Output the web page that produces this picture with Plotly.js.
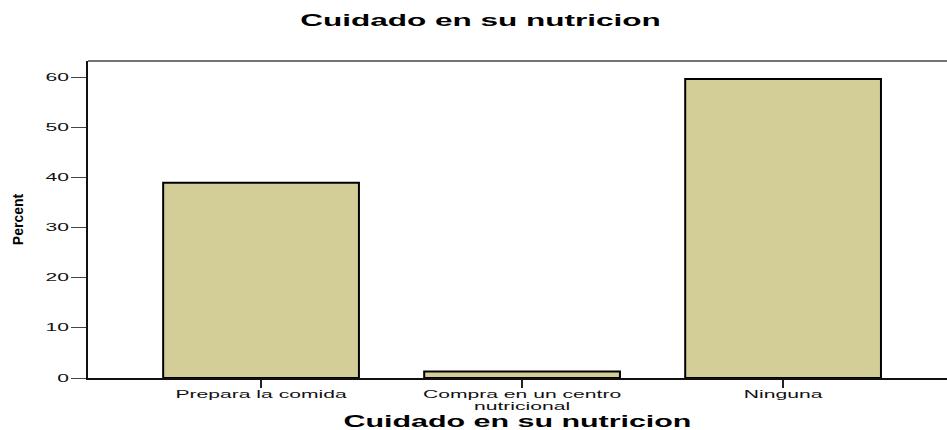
<!DOCTYPE html>
<html>
<head>
<meta charset="utf-8">
<script src="https://cdn.plot.ly/plotly-3.0.1.min.js"></script>
<style>
  html, body { margin: 0; padding: 0; background: #fff; }
  #chart { width: 947px; height: 430px; }
</style>
</head>
<body>
<div id="chart"></div>
<script>
// ---- data ----
var categories = ["Prepara la comida", "Compra en un centro nutricional", "Ninguna"];
var tickLabels = ["Prepara la comida", "Compra en un centro<br>nutricional", "Ninguna"];
var percentValues = [39.0, 1.3, 59.7];
var yTickValues = [0, 10, 20, 30, 40, 50, 60];
var chartTitle = "Cuidado en su nutricion";
var xAxisTitle = "Cuidado en su nutricion";
var yAxisTitle = "Percent";

var trace = {
  type: "bar",
  x: categories,
  y: percentValues,
  width: 0.75,
  marker: { color: "#d3ce98", line: { color: "#000", width: 2 } },
  hoverinfo: "none"
};

var layout = {
  width: 947, height: 430,
  margin: { l: 88, r: 0, t: 61, b: 52 },
  paper_bgcolor: "#fff", plot_bgcolor: "#fff",
  showlegend: false,
  font: { family: "Liberation Sans, Arial, sans-serif", color: "#000" },
  title: {
    text: "<b>" + chartTitle + "</b>",
    font: { size: 16, family: "Liberation Sans, Arial, sans-serif", color: "#000" },
    x: 480.5 / 947, xanchor: "center", xref: "container",
    y: 1 - 20 / 430, yanchor: "middle", yref: "container"
  },
  xaxis: {
    type: "category",
    categoryorder: "array", categoryarray: categories,
    tickvals: categories, ticktext: tickLabels,
    range: [-0.663, 2.628],
    showline: true, linecolor: "#111", linewidth: 2,
    ticks: "outside", ticklen: 8, tickwidth: 2, tickcolor: "#222",
    tickfont: { size: 10, color: "#111" },
    showgrid: false, zeroline: false, fixedrange: true,
    title: { text: "<b>" + xAxisTitle + "</b>", font: { size: 16, color: "#000" }, standoff: 2 }
  },
  yaxis: {
    range: [0, 63.3],
    tickvals: yTickValues,
    showline: true, linecolor: "#111", linewidth: 2,
    ticks: "outside", ticklen: 15, tickwidth: 1, tickcolor: "#444",
    tickfont: { size: 10, color: "#111" },
    showgrid: false, zeroline: false, fixedrange: true,
    title: { text: "<b>" + yAxisTitle + "</b>", font: { size: 14, family: "Liberation Sans, Arial, sans-serif", color: "#000" }, standoff: 31 }
  },
  shapes: [{
    type: "line", xref: "paper", yref: "paper",
    x0: 0, x1: 1, y0: 1, y1: 1,
    line: { color: "#444", width: 1.5 }
  }]
};

function stretchText(nodes, factor) {
  nodes.forEach(function (el) {
    var lines = el.querySelectorAll("tspan.line");
    var targets = lines.length ? Array.prototype.slice.call(lines) : [el];
    targets.forEach(function (t) {
      var len = t.getComputedTextLength();
      if (len > 0) {
        t.setAttribute("textLength", (len * factor).toFixed(1));
        t.setAttribute("lengthAdjust", "spacingAndGlyphs");
      }
    });
  });
}

Plotly.newPlot("chart", [trace], layout, { displayModeBar: false, staticPlot: true }).then(function (gd) {
  var q = function (s) { return Array.prototype.slice.call(gd.querySelectorAll(s)); };
  // tighter line spacing and slightly higher x tick labels, as in the reference
  q(".xtick text").forEach(function (el) {
    var tr = el.getAttribute("transform") || "";
    el.setAttribute("transform", "translate(0,-2) " + tr);
    var lines = el.querySelectorAll("tspan.line");
    for (var i = 1; i < lines.length; i++) lines[i].setAttribute("dy", "1.2em");
  });
  stretchText(q(".gtitle"), 1.97);
  stretchText(q(".xtitle"), 1.9);
  stretchText(q(".xtick text"), 2.11);
  stretchText(q(".ytick text"), 2.1);
});
</script>
</body>
</html>
